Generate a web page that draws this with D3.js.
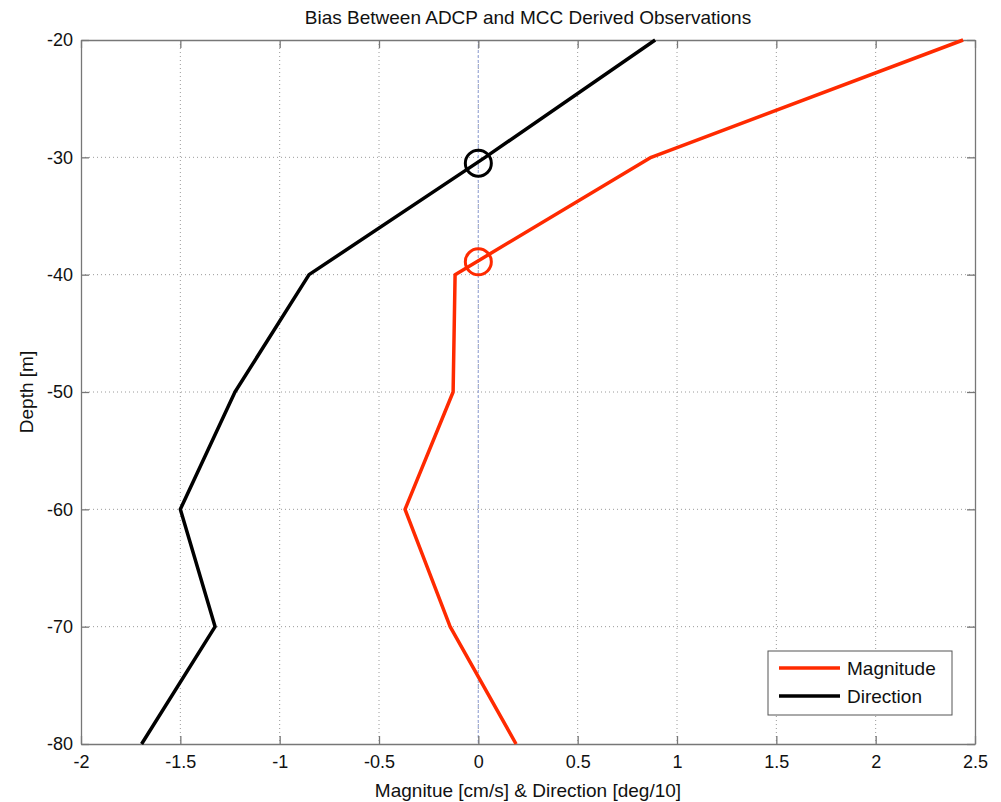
<!DOCTYPE html>
<html>
<head>
<meta charset="utf-8">
<script src="https://cdn.jsdelivr.net/npm/d3@7"></script>
<style>
body { margin: 0; background: #fff; }
text { font-family: "Liberation Sans", Arial, sans-serif; fill: #111; }
</style>
</head>
<body>
<div id="chart"></div>
<script>
var depths = [-20, -30, -40, -50, -60, -70, -80];
var magnitude = [2.44, 0.87, -0.117, -0.127, -0.369, -0.142, 0.19];
var direction = [0.89, 0.034, -0.852, -1.225, -1.50, -1.325, -1.695];
var crossings = [
    {name: "Direction", x: 0, depth: -30.5},
    {name: "Magnitude", x: 0, depth: -38.9}
];
var xTicks = [-2, -1.5, -1, -0.5, 0, 0.5, 1, 1.5, 2, 2.5];
var yTicks = [-20, -30, -40, -50, -60, -70, -80];
var seriesNames = ["Magnitude", "Direction"];
var colors = {Magnitude: "#ff2a00", Direction: "#000000"};

var margin = {top: 40, right: 26, bottom: 58, left: 81},
    width = 1001 - margin.left - margin.right,
    height = 802 - margin.top - margin.bottom;

var svg = d3.select("#chart")
    .append("svg")
    .attr("width", 1001)
    .attr("height", 802);

var g = svg.append("g")
    .attr("transform", "translate(" + margin.left + "," + margin.top + ")");

var x = d3.scaleLinear().domain([-2, 2.5]).range([0, width]);
var y = d3.scaleLinear().domain([-20, -80]).range([0, height]);

// plain hyphen labels like the original
var fmt = function(d) { return String(d); };

// grid
g.selectAll(".vgrid")
    .data(xTicks.slice(1, -1))
    .enter().append("line")
    .attr("x1", function(d) { return x(d); })
    .attr("x2", function(d) { return x(d); })
    .attr("y1", 0).attr("y2", height)
    .attr("stroke", "#9a9a9a")
    .attr("stroke-width", 1)
    .attr("stroke-dasharray", "1,3");

g.selectAll(".hgrid")
    .data(yTicks.slice(1, -1))
    .enter().append("line")
    .attr("y1", function(d) { return y(d); })
    .attr("y2", function(d) { return y(d); })
    .attr("x1", 0).attr("x2", width)
    .attr("stroke", "#9a9a9a")
    .attr("stroke-width", 1)
    .attr("stroke-dasharray", "1,3");

// zero reference line
g.append("line")
    .attr("x1", x(0)).attr("x2", x(0))
    .attr("y1", 0).attr("y2", height)
    .attr("stroke", "#a6b2dc")
    .attr("stroke-width", 1.3)
    .attr("stroke-dasharray", "3,2");

// axes (box with inward ticks)
var axisColor = "#777";
var xAxis = g.append("g")
    .attr("transform", "translate(0," + height + ")")
    .call(d3.axisBottom(x).tickValues(xTicks).tickSizeInner(-8).tickSizeOuter(0).tickPadding(11)
        .tickFormat(fmt));
var xAxisTop = g.append("g")
    .call(d3.axisTop(x).tickValues(xTicks).tickSizeInner(-8).tickSizeOuter(0).tickFormat(""));
var yAxis = g.append("g")
    .call(d3.axisLeft(y).tickValues(yTicks).tickSizeInner(-8).tickSizeOuter(0).tickPadding(8)
        .tickFormat(fmt));
var yAxisRight = g.append("g")
    .attr("transform", "translate(" + width + ",0)")
    .call(d3.axisRight(y).tickValues(yTicks).tickSizeInner(-8).tickSizeOuter(0).tickFormat(""));

[xAxis, xAxisTop, yAxis, yAxisRight].forEach(function(a) {
    a.selectAll("path, line").attr("stroke", axisColor).attr("stroke-width", 1.3);
    a.selectAll("text").style("font-size", "18px").style("font-family", "Liberation Sans, Arial, sans-serif").attr("fill", "#111");
});

// lines
var line = d3.line()
    .x(function(d) { return x(d[0]); })
    .y(function(d) { return y(d[1]); });

var series = {
    Magnitude: d3.zip(magnitude, depths),
    Direction: d3.zip(direction, depths)
};

g.append("path")
    .datum(series.Direction)
    .attr("fill", "none")
    .attr("stroke", colors.Direction)
    .attr("stroke-width", 3.5)
    .attr("stroke-linejoin", "round")
    .attr("d", line);

g.append("path")
    .datum(series.Magnitude)
    .attr("fill", "none")
    .attr("stroke", colors.Magnitude)
    .attr("stroke-width", 3.5)
    .attr("stroke-linejoin", "round")
    .attr("d", line);

g.selectAll(".cross")
    .data(crossings)
    .enter().append("circle")
    .attr("cx", function(d) { return x(d.x); })
    .attr("cy", function(d) { return y(d.depth); })
    .attr("r", 13)
    .attr("fill", "none")
    .attr("stroke", function(d) { return colors[d.name]; })
    .attr("stroke-width", 3);

// title and labels
svg.append("text")
    .attr("x", margin.left + width / 2)
    .attr("y", 24)
    .attr("text-anchor", "middle")
    .style("font-size", "19px")
    .text("Bias Between ADCP and MCC Derived Observations");

svg.append("text")
    .attr("x", margin.left + width / 2)
    .attr("y", 797)
    .attr("text-anchor", "middle")
    .style("font-size", "19px")
    .text("Magnitue [cm/s] & Direction [deg/10]");

svg.append("text")
    .attr("transform", "translate(33," + (margin.top + height / 2) + ") rotate(-90)")
    .attr("text-anchor", "middle")
    .style("font-size", "19px")
    .text("Depth [m]");

// legend
var legend = g.append("g")
    .attr("transform", "translate(" + (768 - margin.left) + "," + (651 - margin.top) + ")");

legend.append("rect")
    .attr("width", 184)
    .attr("height", 64)
    .attr("fill", "#fff")
    .attr("stroke", "#555")
    .attr("stroke-width", 1);

var items = legend.selectAll(".legends")
    .data(seriesNames)
    .enter().append("g")
    .attr("class", "legends")
    .attr("transform", function(d, i) { return "translate(0," + (17 + i * 28) + ")"; });

items.append("line")
    .attr("x1", 11).attr("x2", 72)
    .attr("stroke", function(d) { return colors[d]; })
    .attr("stroke-width", 3.5);

items.append("text")
    .attr("x", 79)
    .attr("y", 7)
    .style("font-size", "19px")
    .text(function(d) { return d; });
</script>
</body>
</html>
